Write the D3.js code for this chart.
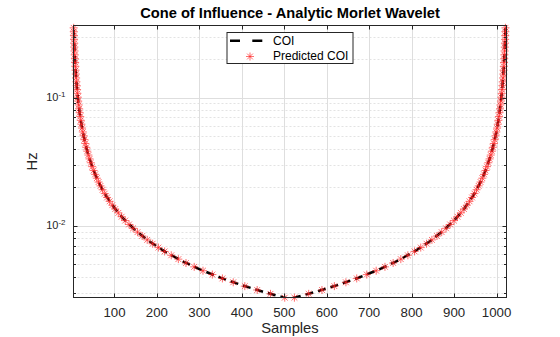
<!DOCTYPE html>
<html>
<head>
<meta charset="utf-8">
<script src="https://cdn.jsdelivr.net/npm/d3@7"></script>
<style>
  html, body { margin: 0; padding: 0; background: #fff; }
  svg { display: block; font-family: "Liberation Sans", Arial, Helvetica, sans-serif; }
</style>
</head>
<body>
<svg id="chart" width="560" height="337"></svg>
<script>
// ---------------- data ----------------
const chartTitle = "Cone of Influence - Analytic Morlet Wavelet";
const xLabel = "Samples";
const yLabel = "Hz";
const seriesNames = ["COI", "Predicted COI"];

const xTicks = [100, 200, 300, 400, 500, 600, 700, 800, 900, 1000];
const yMajorTicks = [0.01, 0.1];
const yMajorExponents = ["-2", "-1"];
const yMinorTicks = [0.003, 0.004, 0.005, 0.006, 0.007, 0.008, 0.009,
                     0.02, 0.03, 0.04, 0.05, 0.06, 0.07, 0.08, 0.09,
                     0.2, 0.3];
const xDomain = [3.5, 1023.5];
const yDomain = [0.00275, 0.3657];

// COI (black dashed line) – sample index and frequency
const coiSamples = [1, 2, 3, 4, 5, 6, 7, 8, 10, 12, 15, 18, 22, 26, 30, 35, 40, 50, 60, 70, 80,
  100, 120, 150, 180, 220, 260, 300, 350, 400, 450, 500, 512,
  513, 525, 575, 625, 675, 725, 765, 805, 845, 875, 905, 925, 945, 955, 965, 975,
  985, 990, 995, 999, 1003, 1007, 1010, 1013, 1015, 1017, 1018, 1019, 1020, 1021, 1022, 1023, 1024];
const coiFreq = [1.373, 0.6865, 0.4577, 0.3433, 0.2746, 0.2288, 0.1961, 0.1716, 0.1373, 0.1144,
  0.09153, 0.07628, 0.06241, 0.05281, 0.04577, 0.03923, 0.03433, 0.02746, 0.02288, 0.01961, 0.01716,
  0.01373, 0.01144, 0.009153, 0.007628, 0.006241, 0.005281, 0.004577, 0.003923, 0.003433, 0.003051,
  0.002746, 0.002682,
  0.002682, 0.002746, 0.003051, 0.003433, 0.003923, 0.004577, 0.005281, 0.006241, 0.007628, 0.009153,
  0.01144, 0.01373, 0.01716, 0.01961, 0.02288, 0.02746, 0.03433, 0.03923, 0.04577, 0.05281, 0.06241,
  0.07628, 0.09153, 0.1144, 0.1373, 0.1716, 0.1961, 0.2288, 0.2746, 0.3433, 0.4577, 0.6865, 1.373];

// Predicted COI (red asterisks) – one frequency per scale, left and right edge samples
const predFreq = [
  0.002740, 0.002937, 0.003147, 0.003373, 0.003615, 0.003875, 0.004153, 0.004451, 0.004771, 0.005113,
  0.005480, 0.005873, 0.006295, 0.006747, 0.007231, 0.007750, 0.008306, 0.008903, 0.009542, 0.010226,
  0.010960, 0.011747, 0.012590, 0.013493, 0.014462, 0.015500, 0.016613, 0.017805, 0.019083, 0.020453,
  0.02192, 0.02349, 0.02518, 0.02699, 0.02892, 0.03100, 0.03323, 0.03561, 0.03817, 0.04091,
  0.04384, 0.04699, 0.05036, 0.05397, 0.05785, 0.06200, 0.06645, 0.07122, 0.07633, 0.08181,
  0.08768, 0.09398, 0.10072, 0.10795, 0.11570, 0.12400, 0.13290, 0.14244, 0.15266, 0.16362,
  0.17536, 0.18795, 0.20145, 0.21590, 0.23140, 0.24800, 0.26580, 0.28488, 0.30532, 0.32724,
  0.35072];
const predLeft = [
  501.1, 467.5, 436.2, 407.0, 379.8, 354.3, 330.6, 308.5, 287.8, 268.5,
  250.5, 233.8, 218.1, 203.5, 189.9, 177.2, 165.3, 154.2, 143.9, 134.3,
  125.3, 116.9, 109.1, 101.8, 94.9, 88.6, 82.6, 77.1, 72.0, 67.1,
  62.6, 58.4, 54.5, 50.9, 47.5, 44.3, 41.3, 38.6, 36.0, 33.6,
  31.3, 29.2, 27.3, 25.4, 23.7, 22.1, 20.7, 19.3, 18.0, 16.8,
  15.7, 14.6, 13.6, 12.7, 11.9, 11.1, 10.3, 9.6, 9.0, 8.4,
  7.8, 7.3, 6.8, 6.4, 5.9, 5.5, 5.2, 4.8, 4.5, 4.2,
  3.9];
const predRight = [
  523.9, 557.5, 588.8, 618.0, 645.2, 670.7, 694.4, 716.5, 737.2, 756.5,
  774.5, 791.2, 806.9, 821.5, 835.1, 847.8, 859.7, 870.8, 881.1, 890.7,
  899.7, 908.1, 915.9, 923.2, 930.1, 936.4, 942.4, 947.9, 953.0, 957.9,
  962.4, 966.6, 970.5, 974.1, 977.5, 980.7, 983.7, 986.4, 989.0, 991.4,
  993.7, 995.8, 997.7, 999.6, 1001.3, 1002.9, 1004.3, 1005.7, 1007.0, 1008.2,
  1009.3, 1010.4, 1011.4, 1012.3, 1013.1, 1013.9, 1014.7, 1015.4, 1016.0, 1016.6,
  1017.2, 1017.7, 1018.2, 1018.6, 1019.1, 1019.5, 1019.8, 1020.2, 1020.5, 1020.8,
  1021.1];

// ---------------- layout ----------------
const L = 73.5, R = 506.5, T = 25.5, B = 297.5;
const axisColor = "#262626";
const gridColor = "#dedede";
const minorGridColor = "#e3e3e3";

const svg = d3.select("#chart");
const x = d3.scaleLinear().domain(xDomain).range([L, R]);
const y = d3.scaleLog().domain(yDomain).range([B, T]);

// fit a font size so a text's advance width matches a target width
function fitFont(str, base, target, weight) {
  const t = svg.append("text").attr("font-size", base).attr("font-weight", weight || "normal").text(str);
  const w = t.node().getComputedTextLength();
  t.remove();
  if (!w) return base;
  const s = base * target / w;
  return Math.max(base * 0.8, Math.min(base * 1.25, s));
}
const titleSize = fitFont(chartTitle, 14.5, 300, "bold");
const labelSize = fitFont(xLabel, 14, 57.5);
const tickSize = fitFont("1000", 12.5, 29.5);
const legendSize = fitFont(seriesNames[1], 12, 75.5);

svg.append("defs").append("clipPath").attr("id", "plotClip")
  .append("rect").attr("x", L).attr("y", T).attr("width", R - L).attr("height", B - T);

// grid
const grid = svg.append("g");
grid.selectAll("line.ymin").data(yMinorTicks).join("line")
  .attr("x1", L).attr("x2", R)
  .attr("y1", d => Math.round(y(d)) + 0.5).attr("y2", d => Math.round(y(d)) + 0.5)
  .attr("stroke", minorGridColor).attr("stroke-width", 1).attr("stroke-dasharray", "2,2");
grid.selectAll("line.ymaj").data(yMajorTicks).join("line")
  .attr("x1", L).attr("x2", R)
  .attr("y1", d => Math.round(y(d)) + 0.5).attr("y2", d => Math.round(y(d)) + 0.5)
  .attr("stroke", gridColor).attr("stroke-width", 1);
grid.selectAll("line.xmaj").data(xTicks).join("line")
  .attr("y1", T).attr("y2", B)
  .attr("x1", d => Math.round(x(d)) + 0.5).attr("x2", d => Math.round(x(d)) + 0.5)
  .attr("stroke", gridColor).attr("stroke-width", 1);

// COI line
const coiData = coiSamples.map((s, i) => ({ s: s, f: coiFreq[i] }));
const line = d3.line().x(d => x(d.s)).y(d => y(d.f));
svg.append("path").datum(coiData)
  .attr("clip-path", "url(#plotClip)")
  .attr("d", line)
  .attr("fill", "none").attr("stroke", "#000").attr("stroke-width", 2.5)
  .attr("stroke-dasharray", "8,5");

// Predicted COI markers
const starPath = "M-4,0H4M0,-4V4M-2.9,-2.9L2.9,2.9M-2.9,2.9L2.9,-2.9";
const predData = predFreq.map((f, i) => ({ s: predLeft[i], f: f }))
  .concat(predFreq.map((f, i) => ({ s: predRight[i], f: f })));
svg.append("g").selectAll("path").data(predData).join("path")
  .attr("transform", d => `translate(${x(d.s)},${y(d.f)})`)
  .attr("d", starPath)
  .attr("fill", "none").attr("stroke", "#ff2020").attr("stroke-width", 0.65);

// axes box
svg.append("rect").attr("x", L).attr("y", T).attr("width", R - L).attr("height", B - T)
  .attr("fill", "none").attr("stroke", axisColor).attr("stroke-width", 1);

// ticks
const ticks = svg.append("g").attr("stroke", axisColor).attr("stroke-width", 1);
xTicks.forEach(t => {
  const px = Math.round(x(t)) + 0.5;
  ticks.append("line").attr("x1", px).attr("x2", px).attr("y1", B).attr("y2", B - 4);
  ticks.append("line").attr("x1", px).attr("x2", px).attr("y1", T).attr("y2", T + 4);
});
yMajorTicks.forEach(t => {
  const py = Math.round(y(t)) + 0.5;
  ticks.append("line").attr("x1", L).attr("x2", L + 4).attr("y1", py).attr("y2", py);
  ticks.append("line").attr("x1", R).attr("x2", R - 4).attr("y1", py).attr("y2", py);
});
yMinorTicks.forEach(t => {
  const py = Math.round(y(t)) + 0.5;
  ticks.append("line").attr("x1", L).attr("x2", L + 2.5).attr("y1", py).attr("y2", py);
  ticks.append("line").attr("x1", R).attr("x2", R - 2.5).attr("y1", py).attr("y2", py);
});

// tick labels
svg.append("g").selectAll("text").data(xTicks).join("text")
  .attr("x", d => x(d)).attr("y", 317.3)
  .attr("text-anchor", "middle").attr("font-size", tickSize).attr("fill", axisColor)
  .text(d => d);
yMajorTicks.forEach((t, i) => {
  const tx = svg.append("text").attr("x", 65.5).attr("y", y(t) + 3.6)
    .attr("text-anchor", "end").attr("font-size", 11).attr("fill", axisColor);
  tx.append("tspan").text("10");
  tx.append("tspan").attr("dy", -4).attr("font-size", 8).text(yMajorExponents[i]);
});

// axis labels and title
svg.append("text").attr("x", (L + R) / 2).attr("y", 333)
  .attr("text-anchor", "middle").attr("font-size", labelSize).attr("fill", axisColor).text(xLabel);
svg.append("text").attr("transform", `translate(36.5,${(T + B) / 2}) rotate(-90)`)
  .attr("text-anchor", "middle").attr("font-size", labelSize).attr("fill", axisColor).text(yLabel);
svg.append("text").attr("x", (L + R) / 2).attr("y", 18.3)
  .attr("text-anchor", "middle").attr("font-size", titleSize).attr("font-weight", "bold")
  .attr("fill", "#000").text(chartTitle);

// legend
const lg = svg.append("g");
lg.append("rect").attr("x", 227).attr("y", 32.5).attr("width", 126).attr("height", 31)
  .attr("fill", "#fff").attr("stroke", axisColor).attr("stroke-width", 1);
lg.append("line").attr("x1", 230).attr("x2", 263).attr("y1", 40.7).attr("y2", 40.7)
  .attr("stroke", "#000").attr("stroke-width", 2.5).attr("stroke-dasharray", "10,12.3");
lg.append("text").attr("x", 273).attr("y", 44.5).attr("font-size", legendSize).attr("fill", "#000")
  .text(seriesNames[0]);
lg.append("path").attr("transform", "translate(250,56.5)").attr("d", starPath)
  .attr("fill", "none").attr("stroke", "#ff2020").attr("stroke-width", 0.65);
lg.append("text").attr("x", 273).attr("y", 60.3).attr("font-size", legendSize).attr("fill", "#000")
  .text(seriesNames[1]);
</script>
</body>
</html>
